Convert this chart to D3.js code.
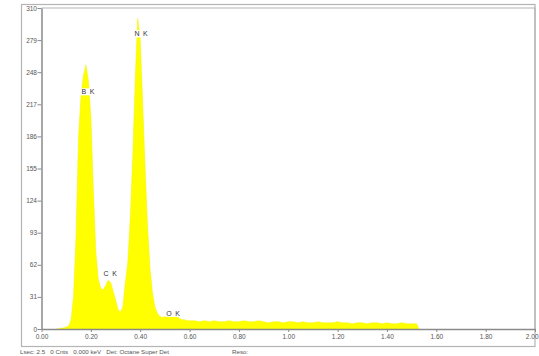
<!DOCTYPE html>
<html><head><meta charset="utf-8">
<script src="https://cdn.jsdelivr.net/npm/d3@7"></script>
<style>body{margin:0;background:#fff}svg{display:block}</style>
</head><body>
<script>
// Spectrum channels (keV) and counts
const energies = [0.06,0.07,0.08,0.09,0.10,0.11,0.12,0.13,0.14,0.15,0.16,0.17,0.18,0.19,0.20,0.21,0.22,0.23,0.24,0.25,0.26,0.27,0.28,0.29,0.30,0.31,0.32,0.33,0.34,0.35,0.36,0.37,0.38,0.39,0.40,0.41,0.42,0.43,0.44,0.45,0.46,0.47,0.48,0.49,0.50,0.51,0.52,0.53,0.54,0.55,0.56,0.57,0.58,0.59,0.60,
 0.62,0.64,0.66,0.68,0.70,0.72,0.74,0.76,0.78,0.80,0.82,0.84,0.86,0.88,0.90,0.92,0.94,0.96,0.98,1.00,1.02,1.04,1.06,1.08,1.10,1.12,1.14,1.16,1.18,1.20,1.22,1.24,1.26,1.28,1.30,1.32,1.34,1.36,1.38,1.40,1.42,1.44,1.46,1.48,1.50,1.52,1.53];
const counts = [0,0,1,1,2,3,9,32,90,185,225,245,255,240,205,135,75,48,39,38,42,47,45,37,28,19,16,22,45,65,108,168,242,300,280,218,155,98,58,34,21,15,12,11,12,14,16,17,15,12,10,9,9,8,8,
 8,7,8,7,8,7,7,8,7,7,8,7,7,8,7,6,7,7,6,7,7,6,7,6,6,7,6,6,6,7,6,6,5,6,6,5,6,6,5,6,5,5,6,5,5,5,0];
const peakNames = ["B K","C K","N K","O K"];
const peakEnergies = [0.19,0.28,0.405,0.535];
const peakLabelCounts = [229,54,285,15];
const yTicks = [0,31,62,93,124,155,186,217,248,279,310];
const xTicks = [0,0.2,0.4,0.6,0.8,1.0,1.2,1.4,1.6,1.8,2.0];
const statusText = "Lsec: 2.5   0 Cnts   0.000 keV   Det: Octane Super Det";
const resoText = "Reso:";

const W = 539, H = 356;
const svg = d3.select("body").append("svg").attr("width", W).attr("height", H);
svg.append("rect").attr("width", W).attr("height", H).attr("fill", "#fff");

const x = d3.scaleLinear().domain([0, 2.0]).range([41.5, 535]);
const y = d3.scaleLinear().domain([0, 310]).range([329, 8]);

// outer frame
svg.append("rect").attr("x", 21.5).attr("y", 4.5).attr("width", 513.5).attr("height", 342)
  .attr("fill", "none").attr("stroke", "#b4b4b4").attr("stroke-width", 1.2);

// spectrum
const pts = energies.map((e, i) => [e, counts[i]]);
const area = d3.area().x(d => x(d[0])).y0(y(0)).y1(d => y(d[1]));
svg.append("path").datum(pts).attr("d", area).attr("fill", "#ffff00").attr("stroke", "#f2f200").attr("stroke-width", 0.5);

// plot frame (top/right)
svg.append("path").attr("d", `M${x(0)},${y(310)}H${x(2.0)}V${y(0)}`)
  .attr("fill", "none").attr("stroke", "#b4b4b4").attr("stroke-width", 1.2);

// axes
const yAxis = d3.axisLeft(y).tickValues(yTicks).tickFormat(d3.format("d")).tickSize(4).tickSizeOuter(0);
const gy = svg.append("g").attr("transform", `translate(${x(0)},0)`).call(yAxis);
const xAxis = d3.axisBottom(x).tickValues(xTicks).tickFormat(d3.format(".2f")).tickSize(3).tickSizeOuter(0);
const gx = svg.append("g").attr("transform", `translate(0,${y(0)})`).call(xAxis);
[gy, gx].forEach(g => {
  g.select(".domain").attr("stroke", "#8a8a8a").attr("stroke-width", 1.5);
  g.selectAll(".tick line").attr("stroke", "#8a8a8a");
  g.selectAll("text").attr("fill", "#555").attr("font-family", "Liberation Sans, Arial, sans-serif").attr("font-size", 6.5);
});
gy.selectAll("text").attr("x", -4.5);
gx.selectAll("text").attr("y", 5);
// keep the last x label inside the window
gx.selectAll(".tick").filter(d => d === 2.0).select("text").attr("text-anchor", "end").attr("x", 3);

// peak labels
peakNames.forEach((n, i) => {
  const g = svg.append("g").attr("transform", `translate(${x(peakEnergies[i])},${y(peakLabelCounts[i])})`);
  const t = g.append("text").text(n).attr("text-anchor", "middle").attr("dy", "0.35em")
    .attr("font-family", "Liberation Sans, Arial, sans-serif").attr("font-size", 7)
    .attr("fill", "#333").attr("letter-spacing", 0.8);
  const bb = t.node().getBBox();
  g.insert("rect", "text").attr("x", bb.x - 1).attr("y", bb.y).attr("width", bb.width + 2).attr("height", bb.height).attr("fill", "#fff");
});

// status line
svg.append("text").attr("x", 20).attr("y", 354).text(statusText)
  .attr("font-family", "Liberation Sans, Arial, sans-serif").attr("font-size", 6.2).attr("fill", "#555").attr("xml:space", "preserve");
svg.append("text").attr("x", 232).attr("y", 354).text(resoText)
  .attr("font-family", "Liberation Sans, Arial, sans-serif").attr("font-size", 6.2).attr("fill", "#555");
</script>
</body></html>
